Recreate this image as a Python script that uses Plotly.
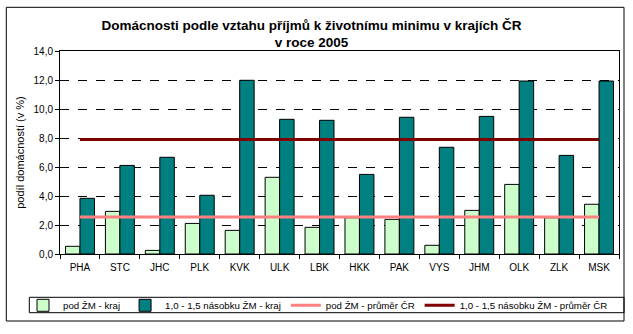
import plotly.graph_objects as go

categories = ["PHA", "STC", "JHC", "PLK", "KVK", "ULK", "LBK", "HKK", "PAK", "VYS", "JHM", "OLK", "ZLK", "MSK"]
pod_zm_kraj = [0.53, 2.94, 0.25, 2.11, 1.63, 5.29, 1.84, 2.5, 2.39, 0.6, 3.01, 4.8, 2.5, 3.43]
nas_kraj = [3.84, 6.11, 6.67, 4.05, 11.98, 9.29, 9.22, 5.49, 9.43, 7.36, 9.49, 11.93, 6.8, 11.93]
pod_zm_cr = [2.55, 2.55, 2.55, 2.55, 2.55, 2.55, 2.55, 2.55, 2.55, 2.55, 2.55, 2.55, 2.55, 2.55]
nas_cr = [7.9, 7.9, 7.9, 7.9, 7.9, 7.9, 7.9, 7.9, 7.9, 7.9, 7.9, 7.9, 7.9, 7.9]
y_ticks = [0, 2, 4, 6, 8, 10, 12, 14]

FONT_R = "Liberation Sans, Arial, sans-serif"

fig = go.Figure()
fig.add_trace(go.Bar(x=categories, y=pod_zm_kraj, name="pod ŽM - kraj",
                     marker=dict(color="#CCFFCC", line=dict(color="black", width=1))))
fig.add_trace(go.Bar(x=categories, y=nas_kraj, name="1,0 - 1,5 násobku ŽM - kraj",
                     marker=dict(color="#008080", line=dict(color="black", width=1))))
fig.add_trace(go.Scatter(x=categories, y=pod_zm_cr, name="pod ŽM - průměr ČR", mode="lines",
                         line=dict(color="#FF8080", width=3)))
fig.add_trace(go.Scatter(x=categories, y=nas_cr, name="1,0 - 1,5 násobku ŽM - průměr ČR", mode="lines",
                         line=dict(color="#800000", width=3)))

W, H = 633, 334
L, R, T, B = 60, 14, 51, 80
pw, ph = W - L - R, H - T - B

def px(x):
    return (x - L) / pw

def py(y):
    return (H - B - y) / ph

fig.update_layout(
    width=W, height=H,
    margin=dict(l=L, r=R, t=T, b=B, autoexpand=False),
    paper_bgcolor="white", plot_bgcolor="white",
    separators=", ",
    barmode="group", bargap=0.275, bargroupgap=0,
    font=dict(family=FONT_R, size=10, color="black"),
    title=dict(text="<b>Domácnosti podle vztahu příjmů k životnímu minimu v krajích ČR<br>v roce 2005</b>",
               font=dict(family=FONT_R, size=13.5, color="black"),
               x=0.492, xanchor="center", xref="container",
               y=1 - 29.5 / H, yanchor="middle"),
    showlegend=True,
    legend=dict(orientation="h", x=px(23), xanchor="left", y=py(305.3), yanchor="middle",
                borderwidth=0, bgcolor="rgba(0,0,0,0)",
                font=dict(family=FONT_R, size=9.7), itemwidth=30, tracegroupgap=0,
                traceorder="normal"),
    shapes=[
        dict(type="rect", xref="paper", yref="paper",
             x0=px(6.3), x1=px(624), y0=py(7.3), y1=py(321),
             line=dict(color="black", width=1), fillcolor="rgba(0,0,0,0)", layer="below"),
        dict(type="rect", xref="paper", yref="paper",
             x0=px(29.3), x1=px(624), y0=py(297.3), y1=py(312.7),
             line=dict(color="black", width=1), fillcolor="rgba(0,0,0,0)", layer="below"),
    ],
)
fig.update_xaxes(showline=True, linecolor="black", linewidth=1, mirror=True,
                 ticks="outside", ticklen=4, tickcolor="black", tickson="boundaries",
                 ticklabelstandoff=4,
                 tickfont=dict(family=FONT_R, size=10), showgrid=False)
fig.update_yaxes(range=[0, 14], tickvals=y_ticks, tickformat=".1f",
                 showline=True, linecolor="black", linewidth=1, mirror=True,
                 ticks="outside", ticklen=4, tickcolor="black",
                 showgrid=True, gridcolor="black", gridwidth=1, griddash="dash",
                 tickfont=dict(family=FONT_R, size=10),
                 title=dict(text="podíl domácností (v %)", font=dict(family=FONT_R, size=11), standoff=6),
                 zeroline=False)
fig.write_html("out.html")
